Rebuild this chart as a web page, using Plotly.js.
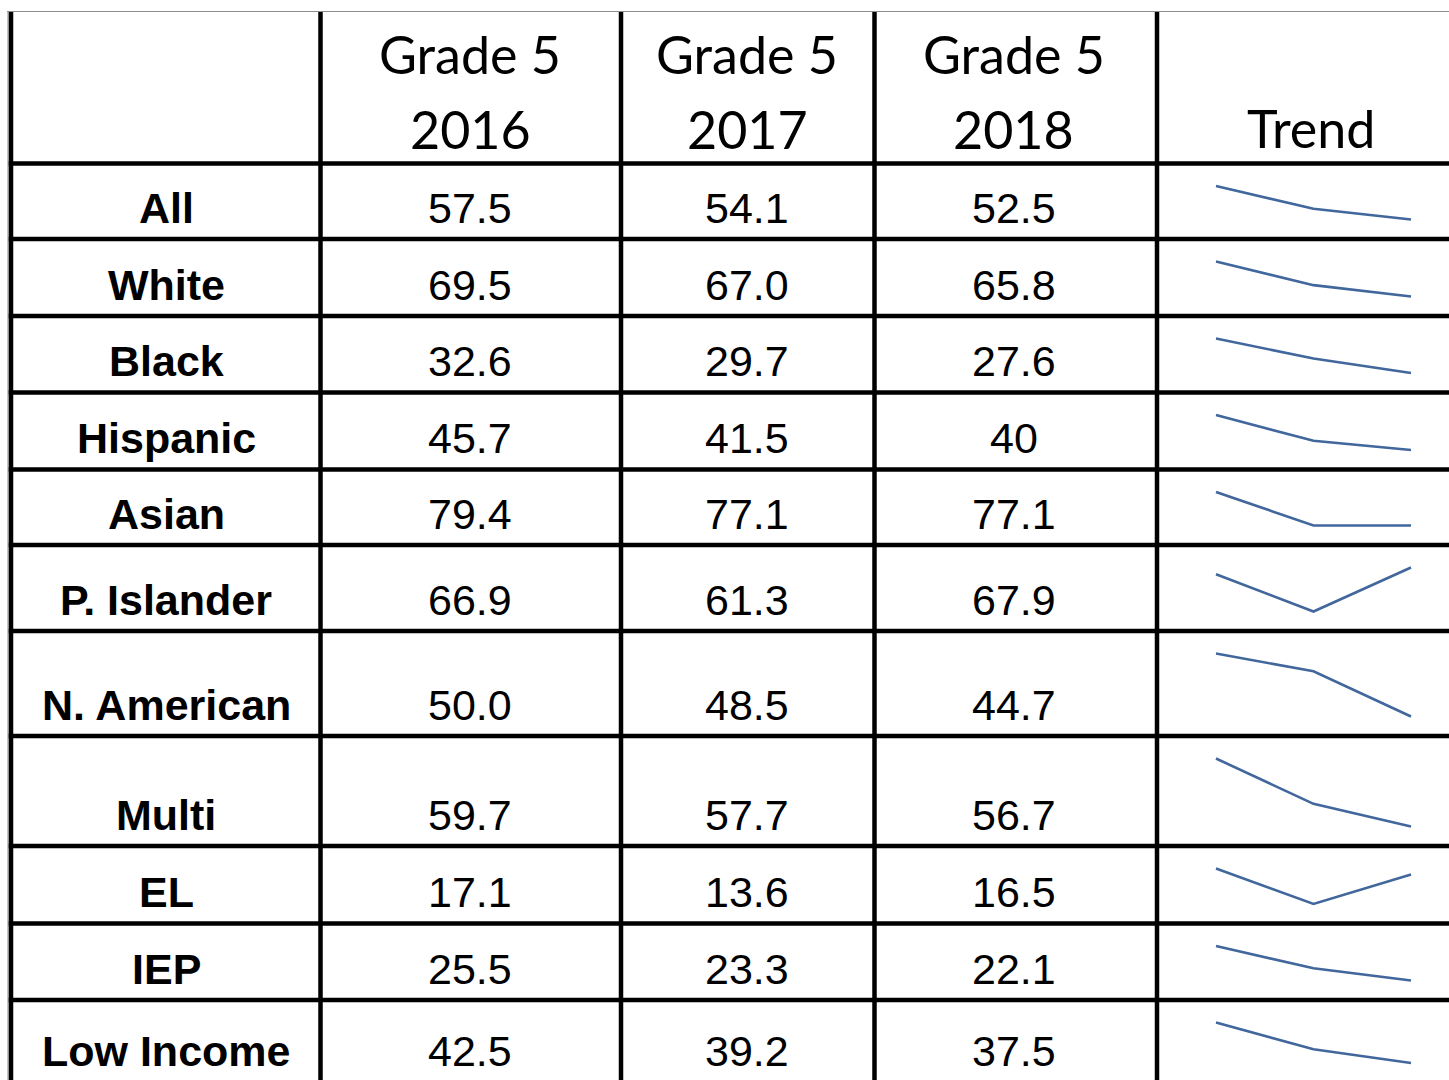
<!DOCTYPE html>
<html><head><meta charset="utf-8">
<script src="https://cdn.plot.ly/plotly-3.0.1.min.js"></script>
<style>html,body{margin:0;padding:0;background:#fff;overflow:hidden;} #chart{width:1449px;height:1080px;}</style>
</head><body><div id="chart"></div>
<script>
// ---- data ----
const groups = ["All","White","Black","Hispanic","Asian","P. Islander","N. American","Multi","EL","IEP","Low Income"];
const years = [2016, 2017, 2018];
const headerTop = ["Grade 5","Grade 5","Grade 5"];
const headerBottom = ["2016","2017","2018"];
const trendLabel = "Trend";
const grade5_2016 = ["57.5","69.5","32.6","45.7","79.4","66.9","50.0","59.7","17.1","25.5","42.5"];
const grade5_2017 = ["54.1","67.0","29.7","41.5","77.1","61.3","48.5","57.7","13.6","23.3","39.2"];
const grade5_2018 = ["52.5","65.8","27.6","40","77.1","67.9","44.7","56.7","16.5","22.1","37.5"];

// ---- geometry (pixels) ----
const W = 1449, H = 1080;
const hLines = [163.5, 239, 316, 392.5, 469.5, 545, 631, 736, 846, 923.5, 1000, 1082.5];
const vLines = [11, 320.5, 621, 874.5, 1157];
const colCenters = [166, 470, 747, 1014];
const trendCenter = 1311;
const sparkX0 = 1216, sparkX1 = 1411;
const px = x => x / W;
const py = y => 1 - y / H;

const shapes = [];
// thin grey outer edge
shapes.push({type:'line', xref:'paper', yref:'paper', x0:px(7), x1:px(1460), y0:py(11.5), y1:py(11.5), line:{color:'#8c8c8c', width:1}});
shapes.push({type:'line', xref:'paper', yref:'paper', x0:px(8), x1:px(8), y0:py(11), y1:py(1090), line:{color:'#8c8c8c', width:1}});
// thick grid
hLines.slice(0, hLines.length - 1).forEach(y => {
  shapes.push({type:'line', xref:'paper', yref:'paper', x0:px(8.75), x1:px(1470), y0:py(y), y1:py(y), line:{color:'#000', width:4.5}});
});
vLines.forEach(x => {
  shapes.push({type:'line', xref:'paper', yref:'paper', x0:px(x), x1:px(x), y0:py(12), y1:py(1090), line:{color:'#000', width:4.5}});
});

const annotations = [];
const headFont = {family:'Lato, Open Sans, sans-serif', size:52, color:'#000'};
const dataFont = {family:'Liberation Sans, Arial, sans-serif', size:43, color:'#000'};
const labFont = {family:'Liberation Sans, Arial, sans-serif', size:43, color:'#000', weight:'bold'};
function ann(text, x, y, font) {
  annotations.push({text:text, xref:'paper', yref:'paper', x:px(x), y:py(y), xanchor:'center', yanchor:'middle', showarrow:false, font:font});
}
headerTop.forEach((t, j) => ann(t, colCenters[j+1], 54, headFont));
headerBottom.forEach((t, j) => ann(t, colCenters[j+1], 129, headFont));
ann(trendLabel, trendCenter, 128, headFont);

const cols = [grade5_2016, grade5_2017, grade5_2018];
groups.forEach((g, i) => {
  const yc = hLines[i+1] - 31.5;
  ann(g, colCenters[0], yc, labFont);
  cols.forEach((c, j) => ann(c[i], colCenters[j+1], yc, dataFont));
});

// ---- sparklines ----
const traces = [];
const layout = {
  width: W, height: H, margin:{l:0,r:0,t:0,b:0}, paper_bgcolor:'#fff', plot_bgcolor:'rgba(0,0,0,0)',
  showlegend:false, shapes:shapes, annotations:annotations,
  xaxis:{visible:false, domain:[px(sparkX0 - 2), px(sparkX1 + 2)], range:[years[0] - 2*(2/(sparkX1-sparkX0)), years[2] + 2*(2/(sparkX1-sparkX0))], anchor:'y', fixedrange:true}
};
groups.forEach((g, i) => {
  const vals = cols.map(c => Number(c[i]));
  const yTop = hLines[i] + 2.5 + 20;
  const yBot = hLines[i+1] - 2.5 - 17;
  const h = yBot - yTop;
  const mn = Math.min(...vals), mx = Math.max(...vals);
  const pad = (mx - mn) * 3 / h;
  const axName = i === 0 ? 'yaxis' : 'yaxis' + (i + 1);
  layout[axName] = {visible:false, anchor:'x', domain:[py(yBot + 3), py(yTop - 3)], range:[mn - pad, mx + pad], fixedrange:true};
  traces.push({type:'scatter', mode:'lines', x:years, y:vals, xaxis:'x', yaxis: i === 0 ? 'y' : 'y' + (i + 1),
    line:{color:'#41679c', width:2.6}, hoverinfo:'skip'});
});

Plotly.newPlot('chart', traces, layout, {staticPlot:true, displayModeBar:false});
</script>
</body></html>
